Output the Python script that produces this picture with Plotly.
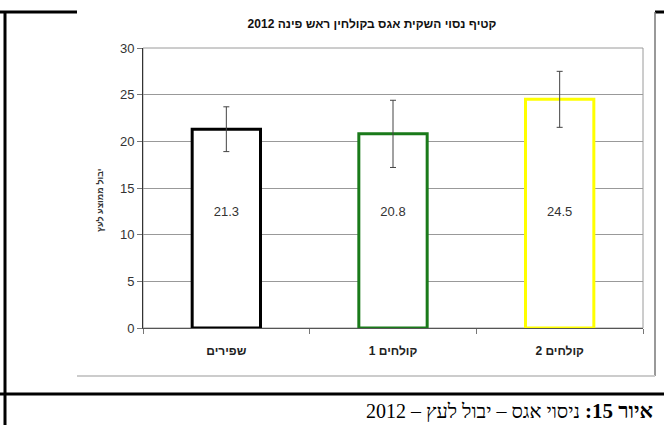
import plotly.graph_objects as go

# ---- data ----
categories = ["שפירים", "קולחים 1", "קולחים 2"]
values = [21.3, 20.8, 24.5]
errors = [2.4, 3.6, 3.0]
value_labels = ["21.3", "20.8", "24.5"]
bar_colors = ["#000000", "#1a7a1a", "#ffff00"]
y_ticks = [0, 5, 10, 15, 20, 25, 30]

title_text = "קטיף נסוי השקית אגס בקולחין ראש פינה 2012"
ytitle_text = "יבול ממוצע לעץ"
caption_bold = "איור 15:"
caption_rest = "ניסוי אגס – יבול לעץ – 2012"

# ---- layout constants ----
W, H = 664, 425
L, R, T, B = 143, 21, 48, 97
PW, PH = W - L - R, H - T - B
LABEL_Y = 12.4
RLM = "\u200f"


def px(x):
    return (x - L) / PW


def py(y):
    return (H - B - y) / PH


fig = go.Figure()
fig.add_trace(go.Bar(
    x=categories, y=values, width=0.41,
    marker=dict(color="white", line=dict(color=bar_colors, width=3)),
    error_y=dict(type="data", array=errors, visible=True,
                 color="#444444", thickness=1, width=3),
    hoverinfo="skip", showlegend=False,
))
fig.add_trace(go.Scatter(
    x=categories, y=[LABEL_Y] * len(categories), mode="text",
    text=value_labels, textfont=dict(family="Arial", size=13, color="#333333"),
    hoverinfo="skip", showlegend=False,
))

shapes = []
black = dict(color="black", width=3)
# page frame lines
shapes.append(dict(type="line", xref="paper", yref="paper", x0=px(0), x1=px(77), y0=py(12), y1=py(12), line=black))
shapes.append(dict(type="line", xref="paper", yref="paper", x0=px(655), x1=px(664), y0=py(12), y1=py(12), line=black))
shapes.append(dict(type="line", xref="paper", yref="paper", x0=px(5), x1=px(5), y0=py(12), y1=py(425), line=black))
shapes.append(dict(type="line", xref="paper", yref="paper", x0=px(0), x1=px(664), y0=py(394), y1=py(394), line=black))
# chart image border
shapes.append(dict(type="line", xref="paper", yref="paper", x0=px(655), x1=px(655), y0=py(12), y1=py(376), line=dict(color="#777777", width=1.5)))
shapes.append(dict(type="line", xref="paper", yref="paper", x0=px(77), x1=px(655), y0=py(376), y1=py(376), line=dict(color="#cccccc", width=2)))
# plot area border (top/right)
shapes.append(dict(type="rect", xref="paper", yref="paper", x0=0, x1=1, y0=0, y1=1, line=dict(color="#9a9a9a", width=1), layer="below"))

fig.update_layout(
    width=W, height=H,
    margin=dict(l=L, r=R, t=T, b=B, pad=0),
    paper_bgcolor="white", plot_bgcolor="white",
    font=dict(family="Arial", color="#222222"),
    title=dict(text="<b>" + title_text + "</b>", xref="container", x=372 / W, xanchor="center",
               yref="container", y=1 - 24 / H, yanchor="middle", font=dict(size=12, color="#111111")),
    xaxis=dict(
        type="category", showline=True, linecolor="#555555", linewidth=1,
        ticks="outside", tickson="boundaries", ticklen=5, tickcolor="#777777",
        tickfont=dict(size=12, color="#222222", family="Arial"),
        tickvals=categories, ticktext=["<b>" + c + "</b>" for c in categories],
        showgrid=False, ticklabelstandoff=12,
    ),
    yaxis=dict(
        range=[0, 30], tickvals=y_ticks, showline=True, linecolor="#333333", linewidth=1,
        ticks="outside", ticklen=5, tickcolor="#777777",
        tickfont=dict(size=13, color="#333333"),
        showgrid=True, gridcolor="#999999", gridwidth=1, zeroline=False,
    ),
    shapes=shapes,
    annotations=[
        dict(text="<b>" + ytitle_text + "</b>", xref="paper", yref="paper",
             x=px(93), y=py(200), textangle=-90, showarrow=False,
             font=dict(size=9, color="#333333")),
        dict(text="<b>" + RLM + caption_bold + RLM + "</b>", xref="paper", yref="paper",
             x=px(655), y=py(411), xanchor="right", yanchor="middle", showarrow=False,
             font=dict(family="Liberation Serif", size=21, color="black")),
        dict(text=RLM + caption_rest + RLM, xref="paper", yref="paper",
             x=px(582), y=py(411), xanchor="right", yanchor="middle", showarrow=False,
             font=dict(family="Liberation Serif", size=20, color="black")),
    ],
)

fig.write_html("out.html", config={"displayModeBar": False},
               post_script="document.body.style.margin='0';document.body.style.padding='0';")
